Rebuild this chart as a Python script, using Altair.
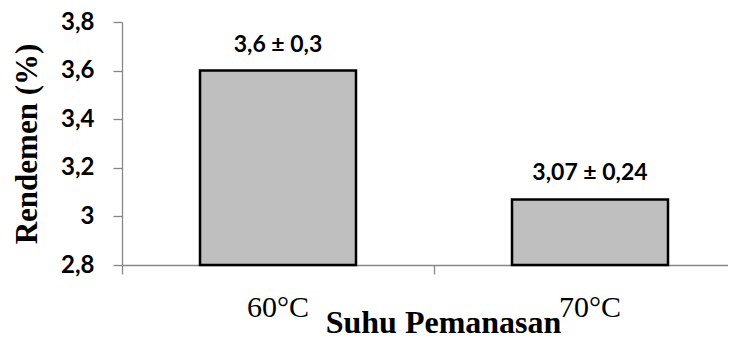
import altair as alt
import pandas as pd

categories = ["60°C", "70°C"]
means = [3.6, 3.07]
sds = [0.3, 0.24]
y_ticks = [2.8, 3.0, 3.2, 3.4, 3.6, 3.8]

labels = [f"{m:g} ± {s:g}".replace(".", ",") for m, s in zip(means, sds)]
df = pd.DataFrame({"suhu": categories, "rendemen": means, "label": labels})

AXIS_GRAY = "#868686"

x = alt.X(
    "suhu:N",
    sort=categories,
    scale=alt.Scale(paddingInner=0, paddingOuter=0),
    axis=alt.Axis(
        title="Suhu Pemanasan",
        bandPosition=0,
        tickExtra=False,
        labelAngle=0,
        labelFont="Liberation Serif",
        labelFontSize=30,
        labelFontWeight="normal",
        labelColor="black",
        labelBaseline="alphabetic",
        labelPadding=42,
        tickSize=9,
        tickColor=AXIS_GRAY,
        domainColor=AXIS_GRAY,
        tickWidth=1.3,
        domainWidth=1.3,
        grid=False,
        titleFont="Liberation Serif",
        titleFontSize=32,
        titleFontWeight="bold",
        titleColor="black",
        titleX=321,
        titleY=67,
        titleAlign="center",
        titleBaseline="alphabetic",
    ),
)

y = alt.Y(
    "rendemen:Q",
    scale=alt.Scale(domain=[y_ticks[0], y_ticks[-1]], zero=False, nice=False),
    axis=alt.Axis(
        title="Rendemen (%)",
        values=y_ticks,
        labelExpr="replace(toString(round(datum.value*10)/10), '.', ',')",
        labelFont="Lato",
        labelFontSize=24,
        labelFontWeight="bold",
        labelColor="black",
        labelPadding=19,
        tickSize=9,
        tickColor=AXIS_GRAY,
        domainColor=AXIS_GRAY,
        tickWidth=1.3,
        domainWidth=1.3,
        grid=False,
        titleFont="Liberation Serif",
        titleFontSize=31,
        titleFontWeight="bold",
        titleColor="black",
        titleX=-86,
        titleY=121.5,
        titleAlign="center",
        titleBaseline="alphabetic",
        titleAngle=270,
    ),
)

bars = alt.Chart(df).mark_bar(
    width={"band": 0.5},
    fill="#bfbfbf",
    stroke="black",
    strokeWidth=2.5,
).encode(x=x, y=y, y2=alt.datum(y_ticks[0]))

text = alt.Chart(df).mark_text(
    dy=-19,
    baseline="alphabetic",
    align="center",
    font="Lato",
    fontSize=23,
    fontWeight="bold",
    color="black",
).encode(x=alt.X("suhu:N", sort=categories), y=alt.Y("rendemen:Q"), text="label:N")

chart = (
    alt.layer(bars, text)
    .properties(
        width=624,
        height=243,
        autosize=alt.AutoSizeParams(type="none"),
        padding={"left": 114, "top": 14, "right": -18, "bottom": 73},
    )
    .configure_view(stroke=None)
)

chart.save("out.html", embed_options={"renderer": "svg", "actions": False})
